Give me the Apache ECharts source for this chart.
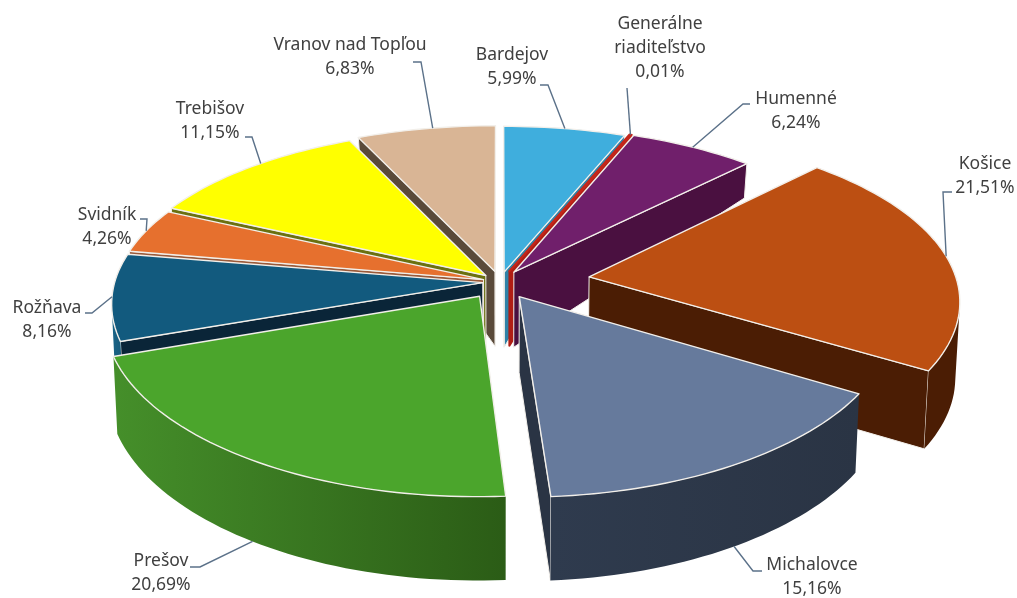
<!DOCTYPE html>
<html><head><meta charset="utf-8">
<style>html,body{margin:0;padding:0;background:#fff}#c{width:1017px;height:598px}</style>
<script src="https://cdn.jsdelivr.net/npm/echarts@6/dist/echarts.min.js"></script></head>
<body><div id="c"></div>
<script>
const categories = ['Bardejov','Generálne\nriaditeľstvo','Humenné','Košice','Michalovce','Prešov','Rožňava','Svidník','Trebišov','Vranov nad Topľou'];
const values = [5.99,0.01,6.24,21.51,15.16,20.69,8.16,4.26,11.15,6.83];
const topColors = ['#3FAEDD','#C4261A','#701F6B','#BC4F12','#667A9C','#4BA52C','#125A7E','#E6702E','#FFFF00','#D9B595'];
const wallColors = [['#3590BC','#2F82A8'],['#B01E14','#B01E14'],['#4A1040','#4A1040'],['#4B1D04','#4B1D04'],['#2F3B4E','#2A3444'],['#458F2A','#2B5C16'],['#1A6488','#155878'],['#9A5A3A','#9A5A3A'],['#6A7010','#6A7010'],['#5A4A3A','#5A4A3A']];
const cutColors = ['#2F82A8','#B01E14','#4A1040','#4B1D04','#2A3444','#2B5C16','#0A2538','#9A5A3A','#6A7010','#5A4A3A'];
const explode = [0.06,0.07,0.07,0.245,0.10,0.10,0.047,0.047,0.055,0.065];
const drawOrder = [9,0,1,2,8,7,6,3,4,5];
const labelCenters = [[512,55],[660,24],[796,99],[985,164],[812,565],[161,561],[47,308],[107,215],[210,109],[350,45]];
const leaderElbows = [[[540,85],[548,85]],[[627,88]],[[750,104],[743,104]],[[952,192],[943,192]],[[762,571],[753,571]],[[190,567],[200,567]],[[85,313],[92,313]],[[140,219],[147,219]],[[245,137],[252,137]],[[413,62],[421,62]]];
const leaderFrac = [0.5,0.5,0.5,0.5,0.5,0.5,0.5,0.5,0.56,0.55];
const heightY = [120,160,272,372,500];
const heightH = [10,33,75,78,84];

const cx=500, cy=282, Rx=368, A=168.5, P=0.138, Px=0.12, edge='#F2EFEA', leaderColor='#5B7189', MIN_SWEEP=0.4*Math.PI/180;
function proj(x,y){return [cx+Rx*x/(1-Px*y), cy+A*y/(1-P*y)];}
function heightAt(Y){
  if(Y<=heightY[0])return heightH[0];
  for(let i=1;i<heightY.length;i++){if(Y<=heightY[i]){const t=(Y-heightY[i-1])/(heightY[i]-heightY[i-1]);return heightH[i-1]+t*(heightH[i]-heightH[i-1]);}}
  return heightH[heightH.length-1];
}
function down(p){return [cx+(p[0]-cx)*0.99, p[1]+heightAt(p[1])];}
function area(poly){let s=0;for(let i=0;i<poly.length;i++){const a=poly[i],b=poly[(i+1)%poly.length];s+=a[0]*b[1]-b[0]*a[1];}return s;}
const total=values.reduce((a,b)=>a+b,0);
function renderItem(params,api){
  const i=api.value(0), v=api.value(1);
  let before=0;for(let k=0;k<i;k++)before+=values[k];
  const a0=before/total*2*Math.PI;
  const sweep=v/total*2*Math.PI, tiny=sweep<MIN_SWEEP;
  const a1=a0+Math.max(sweep,MIN_SWEEP);
  const m=(a0+a1)/2, e=explode[i], ox=e*Math.sin(m), oy=-e*Math.cos(m);
  const rim=a=>proj(ox+Math.sin(a),oy-Math.cos(a));
  const tip=proj(ox,oy), n=Math.max(4,Math.ceil((a1-a0)/(1.5*Math.PI/180)));
  const arc=[];for(let k=0;k<=n;k++)arc.push(rim(a0+(a1-a0)*k/n));
  const z=drawOrder.indexOf(i)*10+10, kids=[];
  const poly=(pts,fill,stroke,lw,zz)=>kids.push({type:'polygon',z2:zz,silent:true,shape:{points:pts},style:{fill:fill,stroke:stroke,lineWidth:lw,lineJoin:'round'}});
  [[arc[n],tip],[tip,arc[0]]].forEach(seg=>{
    const q=[seg[0],seg[1],down(seg[1]),down(seg[0])];
    if(area(q)<0)poly(q,cutColors[i],tiny?cutColors[i]:edge,tiny?2:1,z);
  });
  let tops=[],bots=[];
  for(let k=0;k<n;k++){
    const q=[arc[k],arc[k+1],down(arc[k+1]),down(arc[k])];
    if(area(q)<0){if(!tops.length){tops.push(arc[k]);bots.push(down(arc[k]));}tops.push(arc[k+1]);bots.push(down(arc[k+1]));}
  }
  if(tops.length){
    poly(tops.concat(bots.slice().reverse()),new echarts.graphic.LinearGradient(0,0,1,0,[{offset:0,color:wallColors[i][0]},{offset:1,color:wallColors[i][1]}]),null,0,z+1);
  }
  poly([tip].concat(arc),topColors[i],tiny?topColors[i]:edge,tiny?2:1.4,z+2);
  const rm=rim(a0+(a1-a0)*leaderFrac[i]), anchor=Math.cos(m)<-0.5?down(rm):rm;
  kids.push({type:'polyline',z2:200,silent:true,shape:{points:leaderElbows[i].concat([anchor])},style:{stroke:leaderColor,lineWidth:1.4,fill:null}});
  const txt=categories[i]+'\n'+v.toFixed(2).replace('.',',')+'%';
  kids.push({type:'text',z2:201,silent:true,x:labelCenters[i][0],y:labelCenters[i][1]-12,style:{text:txt,font:'17.5px "Noto Sans", sans-serif',lineHeight:24,fill:'#404040',align:'center',verticalAlign:'top'}});
  return {type:'group',children:kids};
}
const chart=echarts.init(document.getElementById('c'),null,{renderer:'canvas'});
chart.setOption({animation:false,backgroundColor:'#fff',
  series:[{type:'custom',coordinateSystem:'none',clip:false,silent:true,renderItem:renderItem,data:categories.map((c,i)=>[i,values[i]])}]});
</script></body></html>
